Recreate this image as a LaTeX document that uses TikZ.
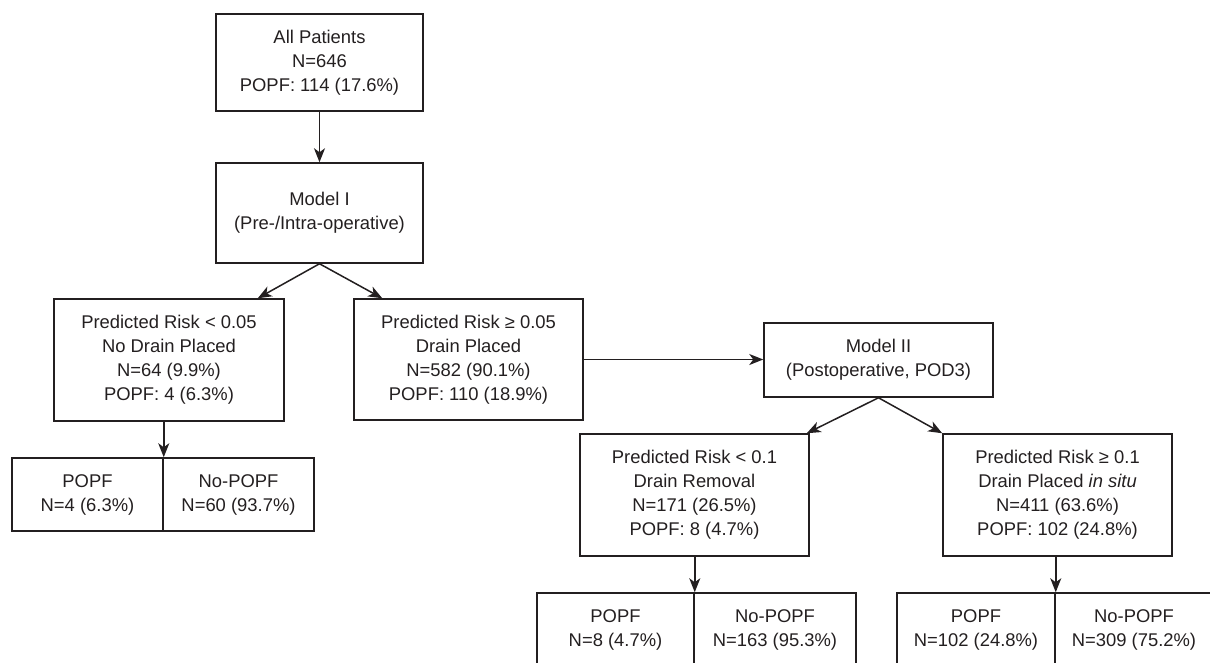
\documentclass[tikz,border=0pt]{standalone}
\usepackage{fontspec}
\setmainfont{Liberation Sans}
\usetikzlibrary{arrows.meta}
\definecolor{ink}{HTML}{231F20}
\begin{document}
\begin{tikzpicture}[x=1pt,y=-1pt,
  box/.style={draw=ink, line width=1.5pt, inner sep=0pt, align=center,
    font=\fontsize{18.4}{24}\selectfont, text=ink},
  arr/.style={draw=ink, line width=1.5pt, -{Stealth[length=14pt,width=11pt,inset=4pt]}}]
\useasboundingbox (0,0) rectangle (1210,662);
\clip (0,0) rectangle (1210,662);
% main boxes
\node[box, minimum width=207pt, minimum height=97pt] (top) at (319.5,62.5)
  {All Patients\\N=646\\POPF: 114 (17.6\%)};
\node[box, minimum width=207pt, minimum height=100pt] (m1) at (319.5,213)
  {Model I\\(Pre-/Intra-operative)};
\node[box, minimum width=230pt, minimum height=122pt] (lm) at (169,360)
  {Predicted Risk < 0.05\\No Drain Placed\\N=64 (9.9\%)\\POPF: 4 (6.3\%)};
\node[box, minimum width=229pt, minimum height=121pt] (rm) at (468.5,359.5)
  {Predicted Risk ≥ 0.05\\Drain Placed\\N=582 (90.1\%)\\POPF: 110 (18.9\%)};
\node[box, minimum width=229pt, minimum height=74pt] (m2) at (878.5,360)
  {Model II\\(Postoperative, POD3)};
\node[box, minimum width=229pt, minimum height=122pt] (lc) at (694.5,495)
  {Predicted Risk < 0.1\\Drain Removal\\N=171 (26.5\%)\\POPF: 8 (4.7\%)};
\node[box, minimum width=229pt, minimum height=122pt] (rc) at (1057.5,495)
  {Predicted Risk ≥ 0.1\\Drain Placed \textit{in situ}\\N=411 (63.6\%)\\POPF: 102 (24.8\%)};
% outcome boxes
\node[box, minimum width=151pt, minimum height=73pt] (bl1) at (87.5,494.5)
  {POPF\\N=4 (6.3\%)};
\node[box, minimum width=151pt, minimum height=73pt] (bl2) at (238.5,494.5)
  {No-POPF\\N=60 (93.7\%)};
\node[box, minimum width=157pt, minimum height=73pt] (bm1) at (615.5,629.5)
  {POPF\\N=8 (4.7\%)};
\node[box, minimum width=162pt, minimum height=73pt] (bm2) at (775,629.5)
  {No-POPF\\N=163 (95.3\%)};
\node[box, minimum width=158pt, minimum height=73pt] (br1) at (976,629.5)
  {POPF\\N=102 (24.8\%)};
\node[box, minimum width=158pt, minimum height=73pt] (br2) at (1134,629.5)
  {No-POPF\\N=309 (75.2\%)};
% connectors
\draw[arr] (top.south) -- (m1.north);
\draw[arr] (m1.south) -- ([xshift=-27pt]lm.north east);
\draw[arr] (m1.south) -- ([xshift=29pt]rm.north west);
\draw[arr] (rm.east) -- (rm.east -| m2.west);
\draw[arr] (m2.south) -- ([xshift=-3pt]lc.north east);
\draw[arr] (m2.south) -- (rc.north west);
\draw[arr] (bl1.north east |- lm.south) -- (bl1.north east);
\draw[arr] (bm1.north east |- lc.south) -- (bm1.north east);
\draw[arr] (br1.north east |- rc.south) -- (br1.north east);
\end{tikzpicture}
\end{document}
